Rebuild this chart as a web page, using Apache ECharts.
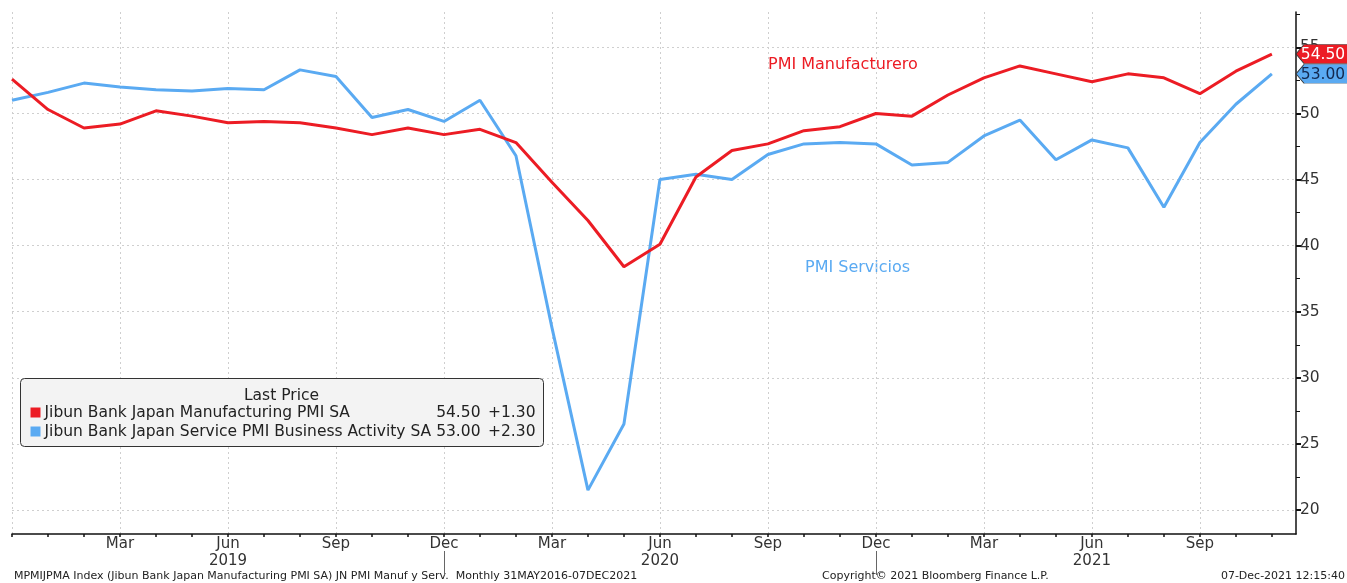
<!DOCTYPE html>
<html>
<head>
<meta charset="utf-8">
<script src="https://cdn.jsdelivr.net/npm/echarts@6/dist/echarts.min.js"></script>
<style>
  html, body { margin: 0; padding: 0; background: #fff; }
  #main { width: 1347px; height: 583px; }
</style>
</head>
<body>
<div id="main"></div>
<script>
// monthly points, Dec 2018 .. Nov 2021
var months = ['2018-12',
  '2019-01', '2019-02', '2019-03', '2019-04', '2019-05', '2019-06',
  '2019-07', '2019-08', '2019-09', '2019-10', '2019-11', '2019-12',
  '2020-01', '2020-02', '2020-03', '2020-04', '2020-05', '2020-06',
  '2020-07', '2020-08', '2020-09', '2020-10', '2020-11', '2020-12',
  '2021-01', '2021-02', '2021-03', '2021-04', '2021-05', '2021-06',
  '2021-07', '2021-08', '2021-09', '2021-10', '2021-11'];
var manufacturing = [52.6,
  50.3, 48.9, 49.2, 50.2, 49.8, 49.3, 49.4, 49.3, 48.9, 48.4, 48.9, 48.4,
  48.8, 47.8, 44.8, 41.9, 38.4, 40.1, 45.2, 47.2, 47.7, 48.7, 49.0, 50.0,
  49.8, 51.4, 52.7, 53.6, 53.0, 52.4, 53.0, 52.7, 51.5, 53.2, 54.5];
var services = [51.0,
  51.6, 52.3, 52.0, 51.8, 51.7, 51.9, 51.8, 53.3, 52.8, 49.7, 50.3, 49.4,
  51.0, 46.8, 33.8, 21.5, 26.5, 45.0, 45.4, 45.0, 46.9, 47.7, 47.8, 47.7,
  46.1, 46.3, 48.3, 49.5, 46.5, 48.0, 47.4, 42.9, 47.8, 50.7, 53.0];
var yTicks = [20, 25, 30, 35, 40, 45, 50, 55];
var yMinorTicks = [22.5, 27.5, 32.5, 37.5, 42.5, 47.5, 52.5, 57.5];
var quarterTicks = [0, 3, 6, 9, 12, 15, 18, 21, 24, 27, 30, 33];
var xLabelTicks = [3, 6, 9, 12, 15, 18, 21, 24, 27, 30, 33];
var yearBreaks = [12, 24];
var monthNames = ['Jan', 'Feb', 'Mar', 'Apr', 'May', 'Jun', 'Jul', 'Aug', 'Sep', 'Oct', 'Nov', 'Dec'];

var RED = '#ec1c24';
var BLUE = '#5aaaf2';
var X_MAX = 35.67;
var Y_MIN = 18.18, Y_MAX = 57.68;
var FONT = 'DejaVu Sans';
var LEG_FONT = '15.5px "DejaVu Sans"';

function pairs(arr) {
  return arr.map(function (v, i) { return [i, v]; });
}
function last(arr) { return arr[arr.length - 1]; }
function change(arr) {
  var d = arr[arr.length - 1] - arr[arr.length - 2];
  return (d >= 0 ? '+' : '') + d.toFixed(2);
}
function tag(arr, fill, textColor) {
  return {
    silent: true,
    symbol: 'path://M0,9 L8,0 L60,0 L60,18 L8,18 Z',
    symbolSize: [60, 19],
    symbolKeepAspect: false,
    symbolOffset: [30, 0],
    itemStyle: { color: fill, borderColor: '#333', borderWidth: 0.6 },
    label: {
      show: true, position: 'inside', offset: [-3, 1],
      color: textColor, fontSize: 15.5, fontFamily: FONT,
      formatter: function () { return last(arr).toFixed(2); }
    },
    data: [{ coord: [X_MAX, last(arr)] }]
  };
}
// legend box children, drawn above the grid lines
function legendItems() {
  var items = [
    { type: 'rect', shape: { x: 0, y: 0, width: 523, height: 68, r: 4 },
      style: { fill: '#f3f3f3', stroke: '#333', lineWidth: 1 } },
    { type: 'text', x: 261, y: 9, style: { text: 'Last Price', fill: '#222', align: 'center', font: LEG_FONT } }
  ];
  [[manufacturing, RED, 'Jibun Bank Japan Manufacturing PMI SA'],
   [services, BLUE, 'Jibun Bank Japan Service PMI Business Activity SA']].forEach(function (row, k) {
    var y = 26 + k * 19;
    items.push({ type: 'rect', shape: { x: 10, y: y + 3, width: 10, height: 10 }, style: { fill: row[1] } });
    items.push({ type: 'text', x: 24, y: y, style: { text: row[2], fill: '#222', font: LEG_FONT } });
    items.push({ type: 'text', x: 460, y: y, style: { text: last(row[0]).toFixed(2), fill: '#222', align: 'right', font: LEG_FONT } });
    items.push({ type: 'text', x: 515, y: y, style: { text: change(row[0]), fill: '#222', align: 'right', font: LEG_FONT } });
  });
  items.forEach(function (it) { it.z = 100; });
  return items;
}

var myChart = echarts.init(document.getElementById('main'));
myChart.setOption({
  backgroundColor: '#fff',
  animation: false,
  grid: { left: 12, right: 51, top: 12, bottom: 49 },
  xAxis: [
    {
      type: 'value', min: 0, max: X_MAX, interval: 3, position: 'bottom',
      axisLine: { onZero: false, lineStyle: { color: '#111', width: 1.5 } },
      axisTick: { customValues: quarterTicks, length: 3, lineStyle: { color: '#111', width: 1.5 } },
      axisLabel: {
        customValues: xLabelTicks, margin: 2,
        color: '#333', fontSize: 15, fontFamily: FONT, lineHeight: 17,
        formatter: function (v) {
          var m = months[Math.round(v)];
          if (!m) return '';
          var mm = +m.slice(5, 7);
          var s = monthNames[mm - 1];
          if (mm === 6) s += '\n' + m.slice(0, 4);
          return s;
        }
      },
      splitLine: { show: true, lineStyle: { color: '#cfcfcf', type: [2, 3], width: 1 } }
    },
    {
      type: 'value', min: 0, max: X_MAX, position: 'bottom',
      axisLine: { show: false, onZero: false },
      axisTick: { customValues: months.map(function (m, i) { return i; }), length: 3, lineStyle: { color: '#111', width: 1.5 } },
      axisLabel: { show: false },
      splitLine: { show: false }
    },
    {
      type: 'value', min: 0, max: X_MAX, position: 'bottom', offset: 17,
      axisLine: { show: false, onZero: false },
      axisTick: { customValues: yearBreaks, length: 24, lineStyle: { color: '#666', width: 1 } },
      axisLabel: { show: false },
      splitLine: { show: false }
    }
  ],
  yAxis: [
    {
      type: 'value', position: 'right', min: Y_MIN, max: Y_MAX,
      axisLine: { show: true, onZero: false, lineStyle: { color: '#111', width: 1.5 } },
      axisTick: { show: true, customValues: yTicks, length: 5, lineStyle: { color: '#111', width: 2 } },
      axisLabel: { customValues: yTicks, margin: 4, color: '#333', fontSize: 15.5, fontFamily: FONT },
      splitLine: { show: true, lineStyle: { color: '#cfcfcf', type: [2, 3], width: 1 } }
    },
    {
      type: 'value', position: 'right', min: Y_MIN, max: Y_MAX,
      axisLine: { show: false, onZero: false },
      axisTick: { show: true, customValues: yMinorTicks, length: 4, lineStyle: { color: '#111', width: 1 } },
      axisLabel: { show: false },
      splitLine: { show: false }
    }
  ],
  series: [
    {
      name: 'Jibun Bank Japan Manufacturing PMI SA',
      type: 'line', data: pairs(manufacturing), showSymbol: false, clip: false,
      lineStyle: { color: RED, width: 3 }, itemStyle: { color: RED }, z: 4,
      markPoint: tag(manufacturing, RED, '#fff')
    },
    {
      name: 'Jibun Bank Japan Service PMI Business Activity SA',
      type: 'line', data: pairs(services), showSymbol: false, clip: false,
      lineStyle: { color: BLUE, width: 3 }, itemStyle: { color: BLUE }, z: 3,
      markPoint: tag(services, BLUE, '#13284f')
    }
  ],
  graphic: [
    { type: 'text', left: 768, top: 57, style: { text: 'PMI Manufacturero', fill: RED, font: '16px "DejaVu Sans"' } },
    { type: 'text', left: 805, top: 260, style: { text: 'PMI Servicios', fill: BLUE, font: '16px "DejaVu Sans"' } },
    { type: 'group', left: 20, top: 378, z: 100, children: legendItems() },
    { type: 'text', left: 14, top: 571, style: { text: 'MPMIJPMA Index (Jibun Bank Japan Manufacturing PMI SA) JN PMI Manuf y Serv.  Monthly 31MAY2016-07DEC2021', fill: '#222', font: '11px "DejaVu Sans"' } },
    { type: 'text', left: 822, top: 571, style: { text: 'Copyright\u00a9 2021 Bloomberg Finance L.P.', fill: '#222', font: '11px "DejaVu Sans"' } },
    { type: 'text', right: 2, top: 571, style: { text: '07-Dec-2021 12:15:40', fill: '#222', font: '11px "DejaVu Sans"' } }
  ]
});
</script>
</body>
</html>
